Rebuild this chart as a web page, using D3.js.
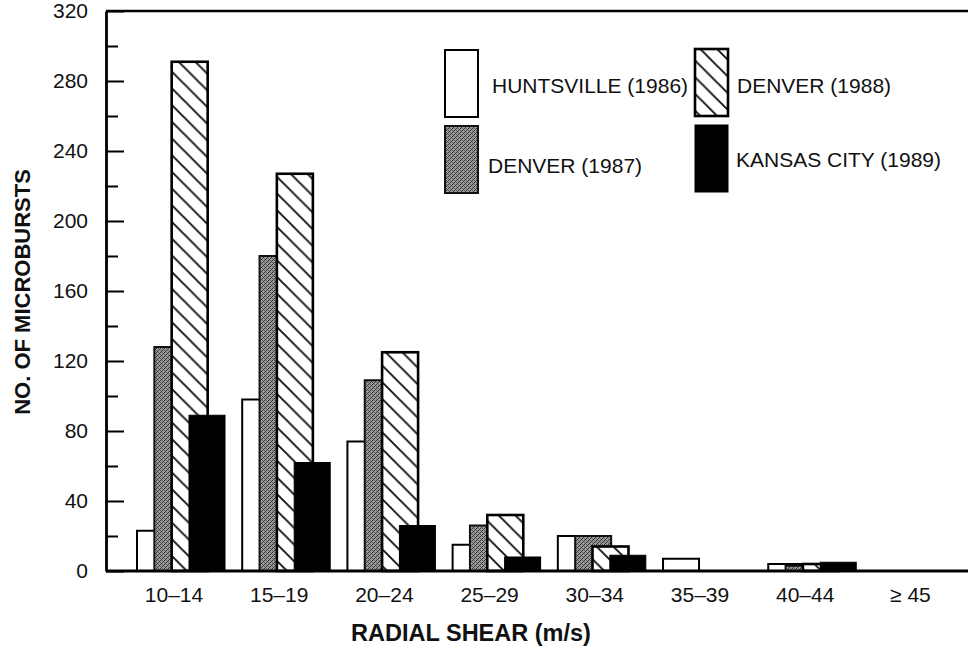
<!DOCTYPE html>
<html>
<head>
<meta charset="utf-8">
<script src="https://cdn.jsdelivr.net/npm/d3@7"></script>
<style>
  html, body { margin: 0; padding: 0; background: #fff; }
  svg { display: block; font-family: "Liberation Sans", Arial, Helvetica, sans-serif; }
</style>
</head>
<body>
<svg id="chart" width="968" height="649"></svg>
<script>
// ---- data ----
const categories = ["10\u201314", "15\u201319", "20\u201324", "25\u201329", "30\u201334", "35\u201339", "40\u201344", "\u2265 45"];
const seriesNames = ["HUNTSVILLE (1986)", "DENVER (1987)", "DENVER (1988)", "KANSAS CITY (1989)"];
const huntsville1986 = [23, 98, 74, 15, 20, 7, 4, 0];
const denver1987     = [128, 180, 109, 26, 20, 0, 3, 0];
const denver1988     = [291, 227, 125, 32, 14, 0, 4, 0];
const kansasCity1989 = [89, 62, 26, 8, 9, 0, 5, 0];
const yTicks = [0, 40, 80, 120, 160, 200, 240, 280, 320];
const yMinorTicks = [20, 60, 100, 140, 180, 220, 260, 300];
const xTitle = "RADIAL SHEAR (m/s)";
const yTitle = "NO. OF MICROBURSTS";

const seriesValues = [huntsville1986, denver1987, denver1988, kansasCity1989];

// ---- layout ----
const svg = d3.select("#chart");
const X0 = 106, Y0 = 571, YTOP = 11, XR = 968;

const y = d3.scaleLinear().domain([0, 320]).range([Y0, YTOP]);
const x = d3.scaleBand().domain(categories).range([137, 947.4]).paddingInner(0.297).paddingOuter(0);
const barW = 36;
const inner = d3.scalePoint().domain(seriesNames).range([0, 52]);

// ---- patterns ----
const defs = svg.append("defs");
const hatch = defs.append("pattern").attr("id", "hatch")
  .attr("patternUnits", "userSpaceOnUse").attr("width", 16.7).attr("height", 16.7);
hatch.append("rect").attr("width", 16.7).attr("height", 16.7).attr("fill", "#fff");
hatch.append("path").attr("d", "M-2,-2 L18.7,18.7 M-2,14.7 L2,18.7 M14.7,-2 L18.7,2")
  .attr("stroke", "#111").attr("stroke-width", 1.9);

const stip = defs.append("pattern").attr("id", "stipple")
  .attr("patternUnits", "userSpaceOnUse").attr("width", 4).attr("height", 4);
stip.append("rect").attr("width", 4).attr("height", 4).attr("fill", "#9c9c9c");
[[0,0],[2,2],[1,3],[3,1]].forEach(([a,b]) =>
  stip.append("rect").attr("x", a).attr("y", b).attr("width", 1).attr("height", 1).attr("fill", "#333"));
stip.append("rect").attr("x", 2).attr("y", 0).attr("width", 1).attr("height", 1).attr("fill", "#5e5e5e");
stip.append("rect").attr("x", 0).attr("y", 2).attr("width", 1).attr("height", 1).attr("fill", "#5e5e5e");

const styles = [
  { fill: "#fff", stroke: "#000", sw: 2 },
  { fill: "url(#stipple)", stroke: "#111", sw: 2 },
  { fill: "url(#hatch)", stroke: "#000", sw: 2.6 },
  { fill: "#000", stroke: "#000", sw: 1 }
];

// ---- bars ----
seriesValues.forEach((vals, si) => {
  const st = styles[si];
  svg.append("g").selectAll("rect")
    .data(vals.map((v, i) => ({ cat: categories[i], v })).filter(d => d.v > 0))
    .join("rect")
    .attr("x", d => x(d.cat) + inner(seriesNames[si]))
    .attr("y", d => y(d.v))
    .attr("width", barW)
    .attr("height", d => Y0 - y(d.v))
    .attr("fill", st.fill)
    .attr("stroke", st.stroke)
    .attr("stroke-width", st.sw);
});

// ---- frame / axes ----
svg.append("line").attr("x1", X0).attr("x2", XR).attr("y1", YTOP).attr("y2", YTOP)
  .attr("stroke", "#000").attr("stroke-width", 2.5);
svg.append("line").attr("x1", X0).attr("x2", XR).attr("y1", Y0).attr("y2", Y0)
  .attr("stroke", "#000").attr("stroke-width", 2.8);

const yAxis = svg.append("g").attr("transform", `translate(${X0},0)`)
  .call(d3.axisLeft(y).tickValues(yTicks).tickSizeInner(-18).tickSizeOuter(0).tickPadding(18));
yAxis.select(".domain").attr("stroke-width", 2.8);
yAxis.selectAll(".tick line").attr("stroke-width", 2);
yAxis.selectAll(".tick text").attr("font-size", 21).attr("fill", "#111")
  .attr("font-family", "Liberation Sans, Arial, sans-serif");

const yMinor = svg.append("g").attr("transform", `translate(${X0},0)`)
  .call(d3.axisLeft(y).tickValues(yMinorTicks).tickSizeInner(-12).tickSizeOuter(0).tickFormat(""));
yMinor.select(".domain").remove();
yMinor.selectAll(".tick line").attr("stroke-width", 2);

const xAxis = svg.append("g").attr("transform", `translate(0,${Y0})`)
  .call(d3.axisBottom(x).tickSize(0).tickPadding(16));
xAxis.select(".domain").remove();
xAxis.selectAll(".tick text").attr("font-size", 21).attr("fill", "#111")
  .attr("font-family", "Liberation Sans, Arial, sans-serif");

// ---- titles ----
svg.append("text").attr("x", 471).attr("y", 641).attr("text-anchor", "middle")
  .attr("font-size", 23.5).attr("font-weight", "bold").attr("fill", "#111").text(xTitle);
svg.append("text").attr("transform", "translate(30,292) rotate(-90)").attr("text-anchor", "middle")
  .attr("font-size", 22).attr("font-weight", "bold").attr("fill", "#111").text(yTitle);

// ---- legend ----
const legendPos = [
  { bx: 445, by: 50, tx: 492, ty: 93 },
  { bx: 445, by: 126, tx: 488, ty: 173 },
  { bx: 695, by: 49, tx: 737, ty: 93 },
  { bx: 695, by: 125, tx: 736, ty: 167 }
];
seriesNames.forEach((name, i) => {
  const p = legendPos[i], st = styles[i];
  svg.append("rect").attr("x", p.bx).attr("y", p.by).attr("width", 33).attr("height", 67)
    .attr("fill", st.fill).attr("stroke", st.stroke).attr("stroke-width", st.sw);
  svg.append("text").attr("x", p.tx).attr("y", p.ty).attr("font-size", 21).attr("fill", "#111").text(name);
});
</script>
</body>
</html>
